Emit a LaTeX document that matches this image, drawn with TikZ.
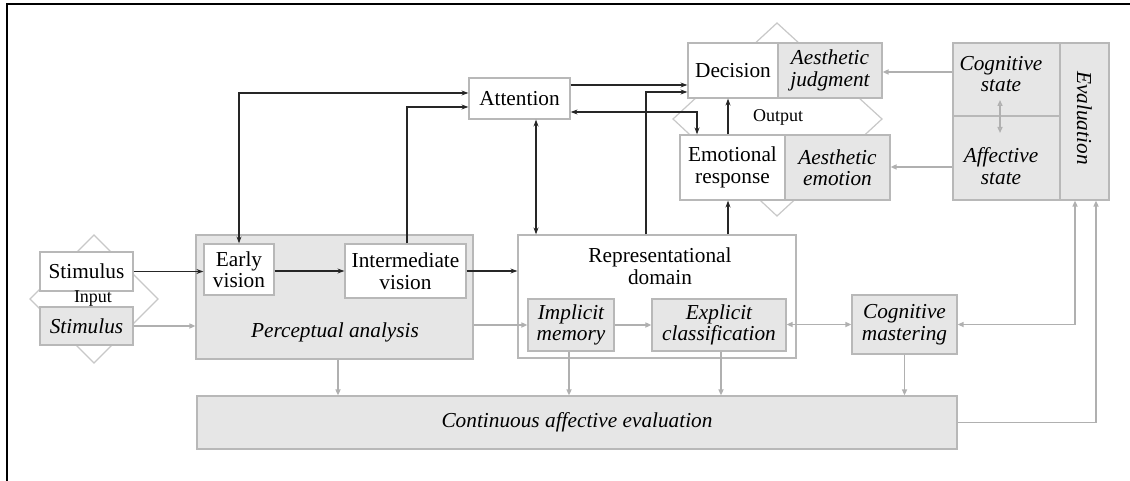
\documentclass[tikz,border=0pt]{standalone}
\usepackage{fontspec}
\setmainfont{Liberation Serif}
\usetikzlibrary{arrows.meta}
\definecolor{gfill}{HTML}{E6E6E6}
\definecolor{gline}{HTML}{B8B8B8}
\definecolor{gconn}{HTML}{B0B0B0}
\definecolor{dline}{HTML}{C8C8C8}
\begin{document}
\begin{tikzpicture}[x=1pt,y=-1pt,
 every node/.style={font=\fontsize{21.3}{21.5}\selectfont, inner sep=0pt, align=center},
 wbox/.style={draw=gline, line width=1.2pt, fill=white},
 gbox/.style={draw=gline, line width=1.2pt, fill=gfill, font=\fontsize{21.3}{21.5}\selectfont\itshape},
 itx/.style={font=\fontsize{21.3}{21.5}\selectfont\itshape},
 blk/.style={draw=black!85, line width=1.4pt, -{Stealth[length=7pt,width=5pt]}},
 blktwo/.style={draw=black!85, line width=1.4pt, {Stealth[length=7pt,width=5pt]}-{Stealth[length=7pt,width=5pt]}},
 gry/.style={draw=gconn, line width=1.8pt, -{Triangle[open,length=6pt,width=5pt]}},
 grytwo/.style={draw=gconn, line width=1.8pt, {Triangle[open,length=6pt,width=5pt]}-{Triangle[open,length=6pt,width=5pt]}},
 dia/.style={draw=dline, line width=1.2pt, fill=white},
 lab/.style={font=\fontsize{18}{18}\selectfont}]
\useasboundingbox (0,0) rectangle (1130,481);
% frame
\draw[line width=2.2pt] (7,481) -- (7,4) -- (1130,4);
% diamonds
\draw[dia] (94,235) -- (158,299) -- (94,363) -- (30,299) -- cycle;
\draw[dia] (777,23) -- (882,119) -- (777,216) -- (673,119) -- cycle;
% input
\node[wbox, minimum width=93pt, minimum height=39pt] (stim) at (86.5,271.5) {Stimulus};
\node[gbox, minimum width=93pt, minimum height=38pt] (stimI) at (86.5,326) {Stimulus};
\node[lab] (inputT) at (93,299) {Input};
% perceptual analysis
\node[gbox, minimum width=277pt, minimum height=124pt] (perc) at (334.5,297) {};
\node[itx] (percT) at (335,332) {Perceptual analysis};
\node[wbox, minimum width=70pt, minimum height=51pt] (early) at (239,269.5) {Early\\vision};
\node[wbox, minimum width=121pt, minimum height=54pt] (inter) at (405.5,271) {Intermediate\\vision};
% representational domain
\node[wbox, minimum width=278pt, minimum height=123pt] (rep) at (657,296.5) {};
\node (repT) at (660,266) {Representational\\domain};
\node[gbox, minimum width=86pt, minimum height=52pt] (impl) at (571,325) {Implicit\\memory};
\node[gbox, minimum width=134pt, minimum height=52pt] (expl) at (719,325) {Explicit\\classification};
\node[gbox, minimum width=105pt, minimum height=59pt] (cogm) at (904.5,324.5) {Cognitive\\mastering};
\node[gbox, minimum width=760pt, minimum height=53pt] (cont) at (577,422.5) {Continuous affective evaluation};
% attention and output
\node[wbox, minimum width=101pt, minimum height=41pt] (att) at (519.5,98.5) {Attention};
\node[wbox, minimum width=90pt, minimum height=55pt] (dec) at (733,70.5) {Decision};
\node[gbox, minimum width=104pt, minimum height=55pt] (aj) at (830,70.5) {Aesthetic\\judgment};
\node[wbox, minimum width=105pt, minimum height=65pt] (emo) at (732.5,167.5) {Emotional\\response};
\node[gbox, minimum width=105pt, minimum height=65pt] (ae) at (837.5,167.5) {Aesthetic\\emotion};
\node[lab] (outputT) at (778,117) {Output};
% evaluation
\node[gbox, minimum width=107pt, minimum height=73pt] (cog) at (1006.5,79.5) {};
\node[gbox, minimum width=107pt, minimum height=84pt] (aff) at (1006.5,158) {};
\node[gbox, minimum width=49pt, minimum height=157pt] (eval) at (1084.5,121.5) {};
\node[itx] (cogT) at (1001,74) {Cognitive\\state};
\node[itx] (affT) at (1001,166) {Affective\\state};
\node[itx, rotate=-90] (evalT) at (1084.5,118) {Evaluation};
\coordinate (ca) at (1000,100);
\coordinate (cb) at (1000,133);
% black connectors
\draw[blk] (stim.east) -- (stim.east -| early.west);
\draw[blk] (early.east |- 0,271) -- (inter.west |- 0,271);
\draw[blk] (inter.east) -- (inter.east -| rep.west);
\draw[blktwo] (early.north) |- ([yshift=5.5pt]att.west);
\draw[blk] ([xshift=1.5pt]inter.north) |- ([yshift=-8.5pt]att.west);
\draw[blktwo] ([xshift=16.5pt]att.south) -- ([xshift=16.5pt]att.south |- rep.north);
\draw[blk] ([yshift=13.5pt]att.east) -- ([yshift=13.5pt]att.east -| dec.west);
\draw[blk] ([xshift=-11pt]rep.north) |- ([yshift=-21.5pt]dec.west);
\draw[blktwo] ([yshift=-13.5pt]att.east) -| ([xshift=-35.5pt]emo.north);
\draw[blk] ([xshift=-4.5pt]emo.north) -- ([xshift=-4.5pt]emo.north |- dec.south);
\draw[blk] ([xshift=71pt]rep.north) -- ([xshift=71pt]rep.north |- emo.south);
% grey connectors
\draw[gry] (stimI.east) -- (stimI.east -| perc.west);
\draw[gry] (impl.west -| perc.east) -- (impl.west);
\draw[gry] (impl.east) -- (expl.west);
\draw[grytwo] (cogm.west) -- (cogm.west -| expl.east);
\draw[grytwo] (cogm.east) -| ([xshift=-9.5pt]eval.south);
\draw[gry] (cont.east) -| ([xshift=11.5pt]eval.south);
\draw[gry] ([xshift=3.5pt]perc.south) -- ([xshift=3.5pt]perc.south |- cont.north);
\draw[gry] ([xshift=-2pt]impl.south) -- ([xshift=-2pt]impl.south |- cont.north);
\draw[gry] ([xshift=2pt]expl.south) -- ([xshift=2pt]expl.south |- cont.north);
\draw[gry] (cogm.south) -- (cogm.south |- cont.north);
\draw[gry] ([yshift=7.5pt]cog.west) -- ([yshift=7.5pt]cog.west -| aj.east);
\draw[gry] ([yshift=-9pt]aff.west) -- ([yshift=-9pt]aff.west -| ae.east);
\draw[grytwo, line width=1.4pt] (ca) -- (cb);
\end{tikzpicture}
\end{document}
